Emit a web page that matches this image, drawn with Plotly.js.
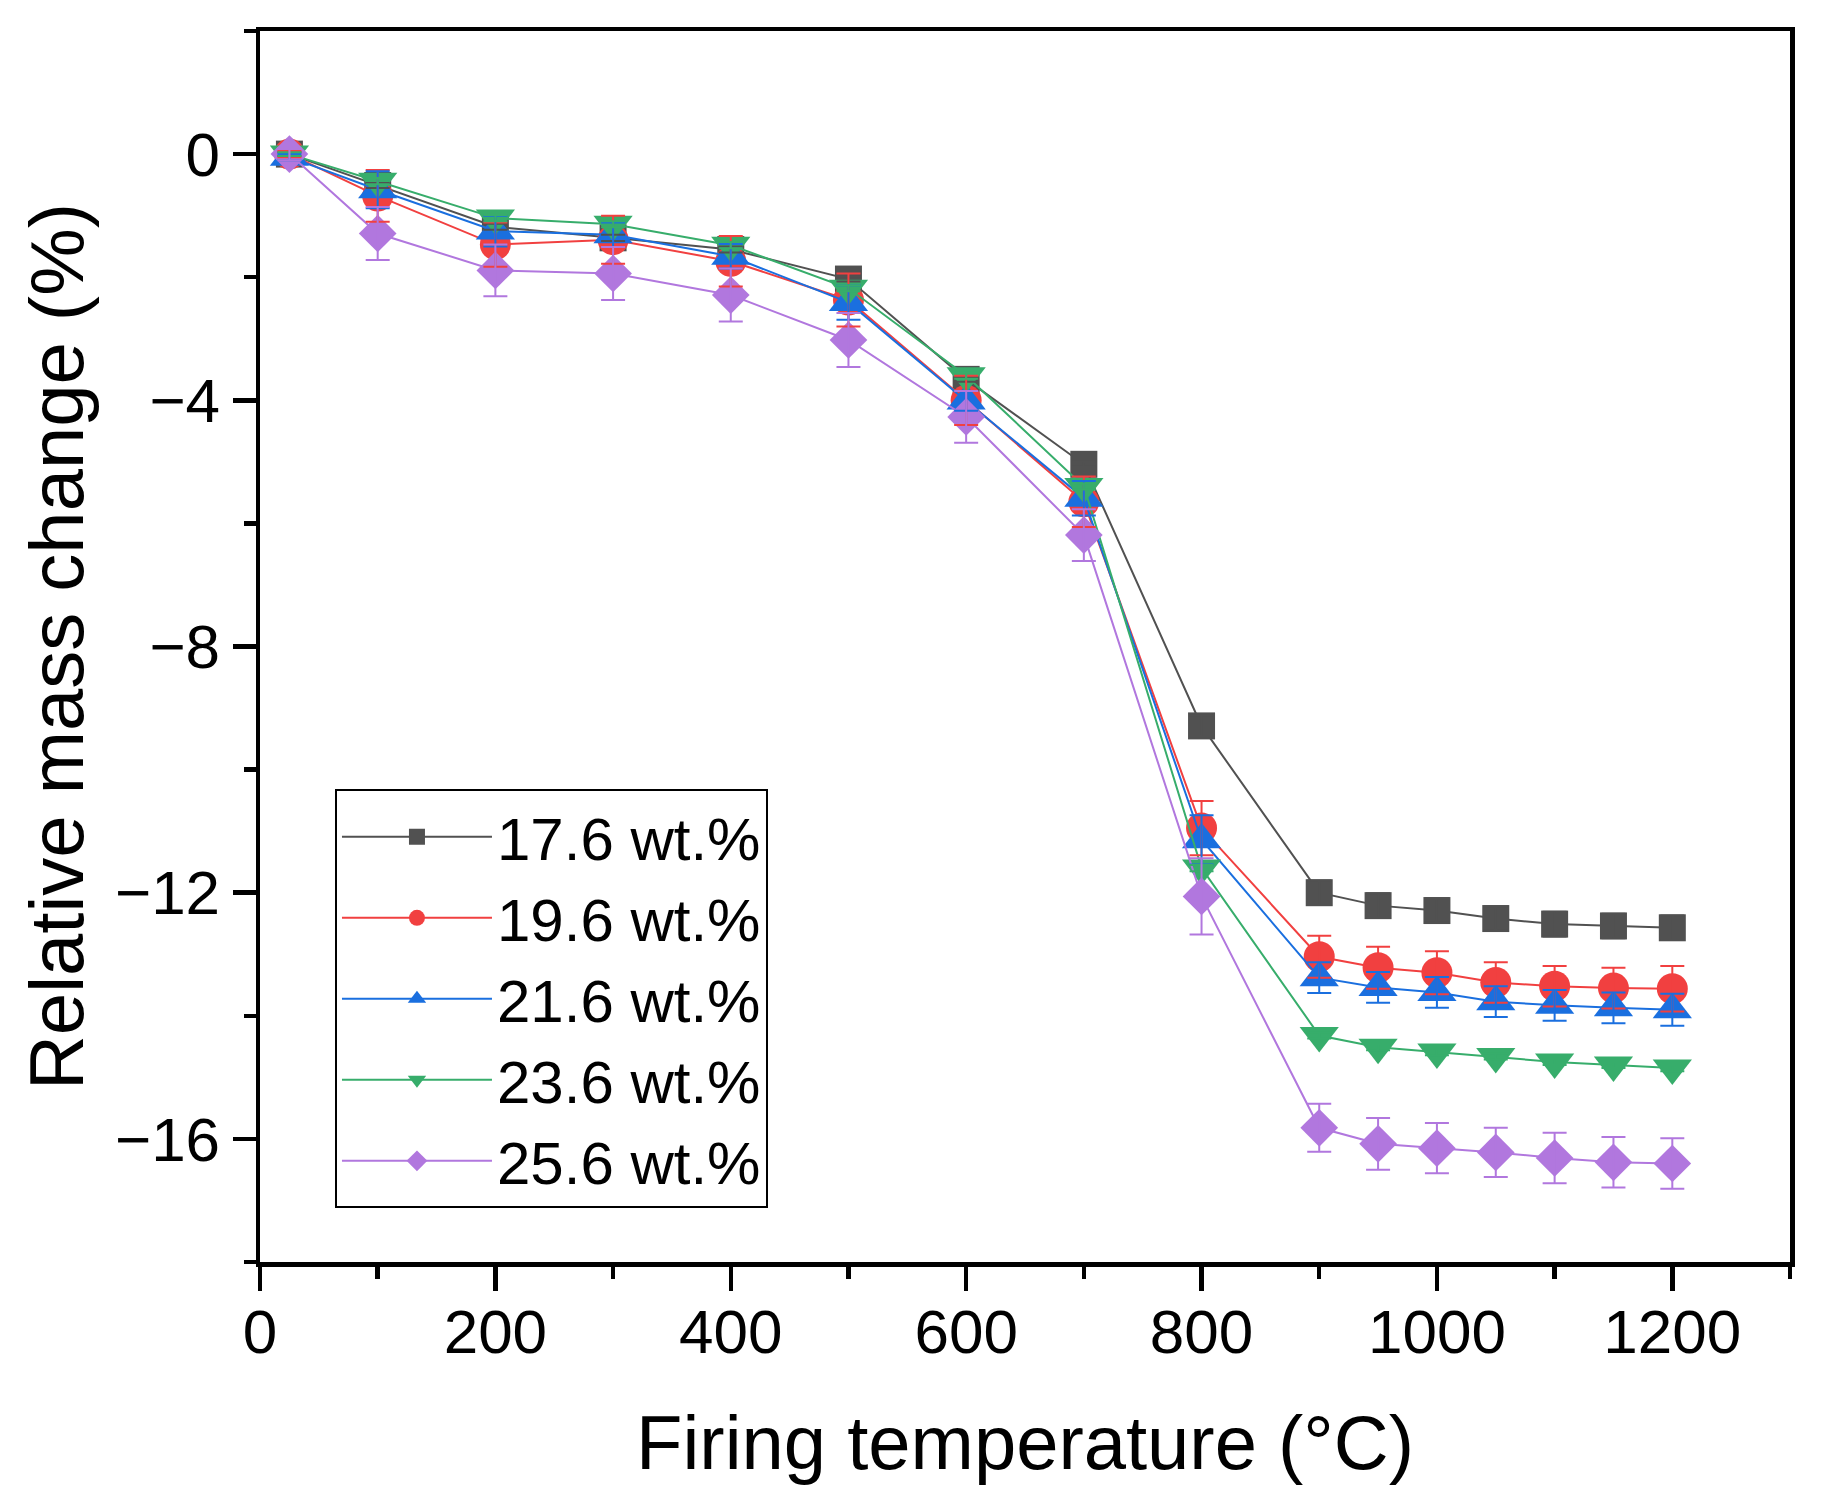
<!DOCTYPE html>
<html>
<head>
<meta charset="utf-8">
<script src="https://cdn.plot.ly/plotly-3.0.1.min.js"></script>
<style>
  html, body { margin: 0; padding: 0; background: #ffffff; }
  #chart { width: 1821px; height: 1510px; }
</style>
</head>
<body>
<div id="chart"></div>
<script>
// Firing temperature (°C)
const temps = [25, 100, 200, 300, 400, 500, 600, 700, 800, 900, 950, 1000, 1050, 1100, 1150, 1200];

// Relative mass change (%) per binder content
const names = ["17.6 wt.%", "19.6 wt.%", "21.6 wt.%", "23.6 wt.%", "25.6 wt.%"];

const s176 = [0, -0.51, -1.18, -1.36, -1.55, -2.03, -3.66, -5.04, -9.29, -12.00, -12.21, -12.29, -12.42, -12.51, -12.54, -12.57];
const s196 = [0, -0.68, -1.47, -1.39, -1.74, -2.37, -4.00, -5.65, -10.95, -13.04, -13.22, -13.30, -13.46, -13.52, -13.55, -13.56];
const s216 = [-0.05, -0.58, -1.25, -1.31, -1.66, -2.41, -4.01, -5.59, -11.14, -13.38, -13.54, -13.62, -13.77, -13.83, -13.87, -13.90];
const s236 = [0, -0.44, -1.04, -1.14, -1.48, -2.18, -3.60, -5.40, -11.60, -14.32, -14.51, -14.59, -14.66, -14.75, -14.80, -14.85];
const s256 = [0, -1.29, -1.89, -1.94, -2.29, -3.02, -4.27, -6.19, -12.06, -15.82, -16.08, -16.15, -16.22, -16.31, -16.38, -16.40];

// error bars (±)
const e176 = [0.03, 0.04, 0.05, 0.05, 0.05, 0.04, 0.04, 0.04, 0.17, 0.20, 0.20, 0.20, 0.20, 0.20, 0.20, 0.20];
const e196 = [0.05, 0.42, 0.36, 0.39, 0.41, 0.43, 0.40, 0.41, 0.44, 0.34, 0.34, 0.35, 0.33, 0.33, 0.33, 0.37];
const e216 = [0.05, 0.30, 0.25, 0.20, 0.20, 0.28, 0.16, 0.28, 0.40, 0.25, 0.25, 0.25, 0.25, 0.25, 0.25, 0.26];
const e236 = [0.03, 0.05, 0.05, 0.05, 0.05, 0.05, 0.05, 0.05, 0.05, 0.05, 0.05, 0.05, 0.05, 0.05, 0.05, 0.05];
const e256 = [0.10, 0.43, 0.42, 0.43, 0.43, 0.44, 0.42, 0.42, 0.62, 0.39, 0.42, 0.41, 0.40, 0.41, 0.41, 0.41];

const xTickVals = [0, 200, 400, 600, 800, 1000, 1200];
const yTickVals = [-16, -12, -8, -4, 0];

const seriesY = [s176, s196, s216, s236, s256];
const seriesE = [e176, e196, e216, e236, e256];
const colors = ["#515151", "#F14040", "#1A6FDF", "#37AD6B", "#B177DE"];
const symbols = ["square", "circle", "triangle-up", "triangle-down", "diamond"];
const sizes = [27, 31, 34, 34, 29];

const FONT = "Liberation Sans, Arial, Helvetica, sans-serif";

// main series: lines + markers
const mainTraces = seriesY.map((ys, i) => ({
  type: "scatter",
  mode: "lines+markers",
  name: names[i],
  x: temps,
  y: ys,
  line: { color: colors[i], width: 2 },
  marker: { symbol: symbols[i], size: sizes[i], color: colors[i], line: { width: 0 } },
  hoverinfo: "skip"
}));

// error bars drawn above all markers (as in the original figure)
const errTraces = seriesY.map((ys, i) => ({
  type: "scatter",
  mode: "markers",
  name: names[i] + " error",
  showlegend: false,
  x: temps,
  y: ys,
  marker: { size: 1, color: colors[i], opacity: 0 },
  error_y: { type: "data", array: seriesE[i], visible: true, color: colors[i], thickness: 2, width: 12 },
  hoverinfo: "skip"
}));

const layout = {
  width: 1821,
  height: 1510,
  paper_bgcolor: "#ffffff",
  plot_bgcolor: "#ffffff",
  margin: { l: 260, r: 31, t: 31, b: 248 },
  font: { family: FONT, size: 62, color: "#000000" },
  showlegend: true,
  legend: {
    x: 0.049, y: 0.384, xanchor: "left", yanchor: "top",
    bgcolor: "#ffffff", bordercolor: "#000000", borderwidth: 2,
    font: { family: FONT, size: 60, color: "#000000" },
    itemwidth: 150, tracegroupgap: 0,
    entrywidth: 285, entrywidthmode: "pixels"
  },
  xaxis: {
    range: [0, 1300],
    tickmode: "array", tickvals: xTickVals,
    ticks: "outside", ticklen: 24, tickwidth: 4.5, tickcolor: "#000000",
    ticklabelstandoff: -12,
    minor: { dtick: 100, tick0: 0, ticks: "outside", ticklen: 12, tickwidth: 4.5, tickcolor: "#000000", showgrid: false },
    showline: true, linewidth: 4.5, linecolor: "#000000", mirror: true,
    showgrid: false, zeroline: false,
    tickfont: { family: FONT, size: 62, color: "#000000" },
    title: { text: "Firing temperature (°C)", font: { family: FONT, size: 76, color: "#000000" }, standoff: 52 }
  },
  yaxis: {
    range: [-18, 2],
    tickmode: "array", tickvals: yTickVals,
    ticks: "outside", ticklen: 23, tickwidth: 4.5, tickcolor: "#000000",
    minor: { dtick: 2, tick0: 0, ticks: "outside", ticklen: 12, tickwidth: 4.5, tickcolor: "#000000", showgrid: false },
    showline: true, linewidth: 4.5, linecolor: "#000000", mirror: true,
    showgrid: false, zeroline: false,
    tickfont: { family: FONT, size: 62, color: "#000000" },
    title: { text: "Relative mass change (%)", font: { family: FONT, size: 76, color: "#000000" }, standoff: 8 }
  }
};

Plotly.newPlot("chart", mainTraces.concat(errTraces), layout, { displayModeBar: false, staticPlot: true });
</script>
</body>
</html>
